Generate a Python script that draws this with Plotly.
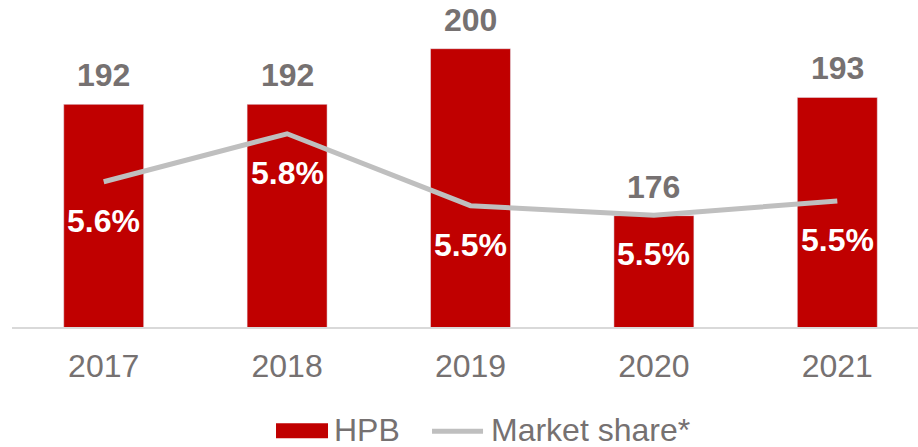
import plotly.graph_objects as go

years = ["2017", "2018", "2019", "2020", "2021"]
hpb = [192, 192, 200, 176, 193]
market_share = [5.6, 5.8, 5.5, 5.46, 5.52]
share_labels = ["5.6%", "5.8%", "5.5%", "5.5%", "5.5%"]

RED = "#C00000"
GREY_LINE = "#BFBFBF"
GREY_TEXT = "#767171"
FONT = "Liberation Sans, Arial, sans-serif"
FS = 32

fig = go.Figure()
fig.add_trace(go.Bar(x=years, y=hpb, name="HPB", marker=dict(color=RED),
                     width=0.436, showlegend=False))
fig.add_trace(go.Scatter(x=years, y=market_share, name="Market share*", yaxis="y2",
                         mode="lines", line=dict(color=GREY_LINE, width=5),
                         showlegend=False))

# value labels above bars (category index as x)
for i, v in enumerate(hpb):
    fig.add_annotation(x=i, y=v, xref="x", yref="y", text=f"<b>{v}</b>",
                       showarrow=False, yshift=29, borderpad=0,
                       font=dict(family=FONT, size=FS, color=GREY_TEXT))
# market share labels under the line
for i, (v, lab) in enumerate(zip(market_share, share_labels)):
    fig.add_annotation(x=i, y=v, xref="x", yref="y2", text=f"<b>{lab}</b>",
                       showarrow=False, yshift=-39,
                       font=dict(family=FONT, size=FS, color="white"))

# legend drawn by hand (wide red swatch like the original)
fig.add_shape(type="rect", xref="paper", yref="paper",
              x0=0.2914, x1=0.3488, y0=-0.3405, y1=-0.2947,
              fillcolor=RED, line=dict(width=0))
fig.add_annotation(xref="paper", yref="paper", x=0.3543, y=-0.3145,
                   xanchor="left", yanchor="middle", showarrow=False, text="HPB",
                   borderpad=0, font=dict(family=FONT, size=FS, color=GREY_TEXT))
fig.add_shape(type="line", xref="paper", yref="paper",
              x0=0.4636, x1=0.5199, y0=-0.3191, y1=-0.3191,
              line=dict(color=GREY_LINE, width=5))
fig.add_annotation(xref="paper", yref="paper", x=0.5276, y=-0.3145,
                   xanchor="left", yanchor="middle", showarrow=False,
                   text="Market share*", borderpad=0,
                   font=dict(family=FONT, size=FS, color=GREY_TEXT))

fig.update_layout(
    width=918, height=447,
    margin=dict(l=12, r=0, t=0, b=119.5),
    paper_bgcolor="white", plot_bgcolor="white",
    font=dict(family=FONT, size=FS, color=GREY_TEXT),
    xaxis=dict(type="category", range=[-0.5, 4.44], showgrid=False,
               showline=True, linecolor="#D9D9D9", linewidth=1.5,
               ticks="", ticklabelstandoff=10,
               tickfont=dict(size=FS, color=GREY_TEXT)),
    yaxis=dict(range=[160, 207], visible=False, showgrid=False),
    yaxis2=dict(range=[4.994, 6.358], overlaying="y", visible=False,
                showgrid=False),
)

# drop the default 8px body margin so the figure fills the window
fig.write_html("out.html", config={"displayModeBar": False},
               post_script="document.body.style.margin='0';")
